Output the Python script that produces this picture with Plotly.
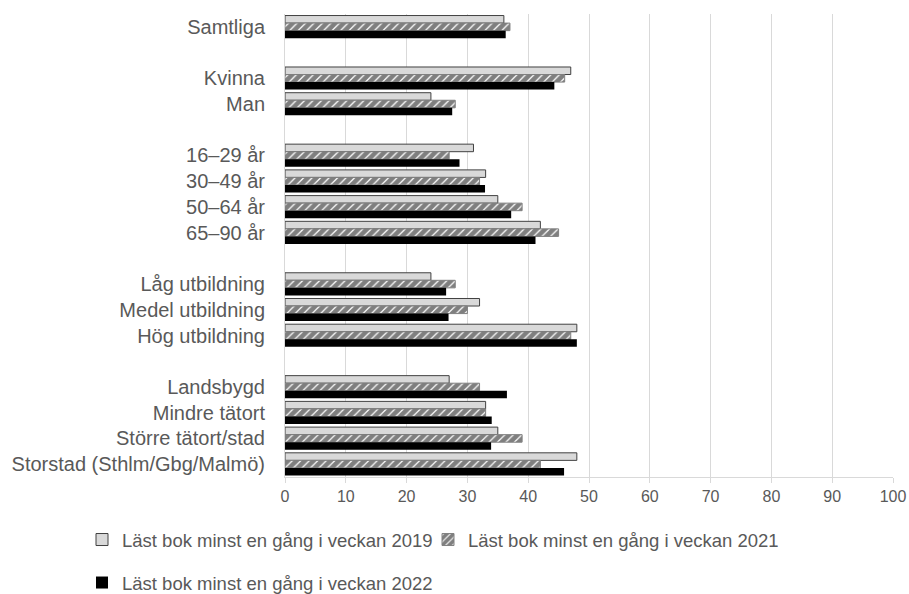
import plotly.graph_objects as go

categories = ["Samtliga", " ", "Kvinna", "Man", "  ", "16–29 år", "30–49 år", "50–64 år", "65–90 år", "   ",
              "Låg utbildning", "Medel utbildning", "Hög utbildning", "    ",
              "Landsbygd", "Mindre tätort", "Större tätort/stad", "Storstad (Sthlm/Gbg/Malmö)"]
v2019 = [36, None, 47, 24, None, 31, 33, 35, 42, None, 24, 32, 48, None, 27, 33, 35, 48]
v2021 = [37, None, 46, 28, None, 27, 32, 39, 45, None, 28, 30, 47, None, 32, 33, 39, 42]
v2022 = [36.3, None, 44.3, 27.5, None, 28.7, 32.9, 37.2, 41.2, None, 26.5, 26.9, 48, None, 36.5, 34, 33.9, 45.9]
names = ["Läst bok minst en gång i veckan 2019", "Läst bok minst en gång i veckan 2021", "Läst bok minst en gång i veckan 2022"]
xticks = [0, 10, 20, 30, 40, 50, 60, 70, 80, 90, 100]

W, H = 909, 594

fig = go.Figure()
fig.add_trace(go.Bar(y=categories, x=v2019, name=names[0], orientation="h",
                     marker=dict(color="#d9d9d9", line=dict(color="#404040", width=1)),
                     legend="legend"))
fig.add_trace(go.Bar(y=categories, x=v2021, name=names[1], orientation="h",
                     marker=dict(color="#ffffff", line=dict(color="#808080", width=1),
                                 pattern=dict(shape="/", fgcolor="#000000", bgcolor="#ffffff", size=6, solidity=0.8)),
                     legend="legend2"))
fig.add_trace(go.Bar(y=categories, x=v2022, name=names[2], orientation="h",
                     marker=dict(color="#000000", line=dict(color="#000000", width=0)),
                     legend="legend3"))

leg_font = dict(size=18.5, color="#595959")
leg_common = dict(orientation="h", xref="container", yref="container", xanchor="left", yanchor="middle",
                  font=leg_font, itemwidth=30, bgcolor="rgba(0,0,0,0)")
fig.update_layout(
    width=W, height=H, showlegend=True,
    barmode="group", bargap=0.12, bargroupgap=0,
    plot_bgcolor="white", paper_bgcolor="white",
    font=dict(family="Liberation Sans, Arial, sans-serif", color="#595959", size=16),
    margin=dict(l=285, r=W - 893, t=14, b=H - 477, autoexpand=False),
    xaxis=dict(range=[0, 100], tickvals=xticks, showgrid=True, gridcolor="#d9d9d9", gridwidth=1,
               zeroline=False, showline=True, linecolor="#d9d9d9", ticks="outside", ticklen=5,
               tickcolor="#d9d9d9", tickfont=dict(size=16, color="#595959")),
    yaxis=dict(autorange="reversed", categoryorder="array", categoryarray=categories,
               showline=True, linecolor="#d9d9d9", ticks="", ticklabelstandoff=15,
               tickfont=dict(size=20, color="#595959")),
    legend=dict(x=82 / W, y=1 - 540 / H, **leg_common),
    legend2=dict(x=428 / W, y=1 - 540 / H, **leg_common),
    legend3=dict(x=82 / W, y=1 - 583 / H, **leg_common),
)
fig.write_html("out.html", config={"displayModeBar": False},
               post_script="document.body.style.margin='0';document.body.style.overflow='hidden';")
